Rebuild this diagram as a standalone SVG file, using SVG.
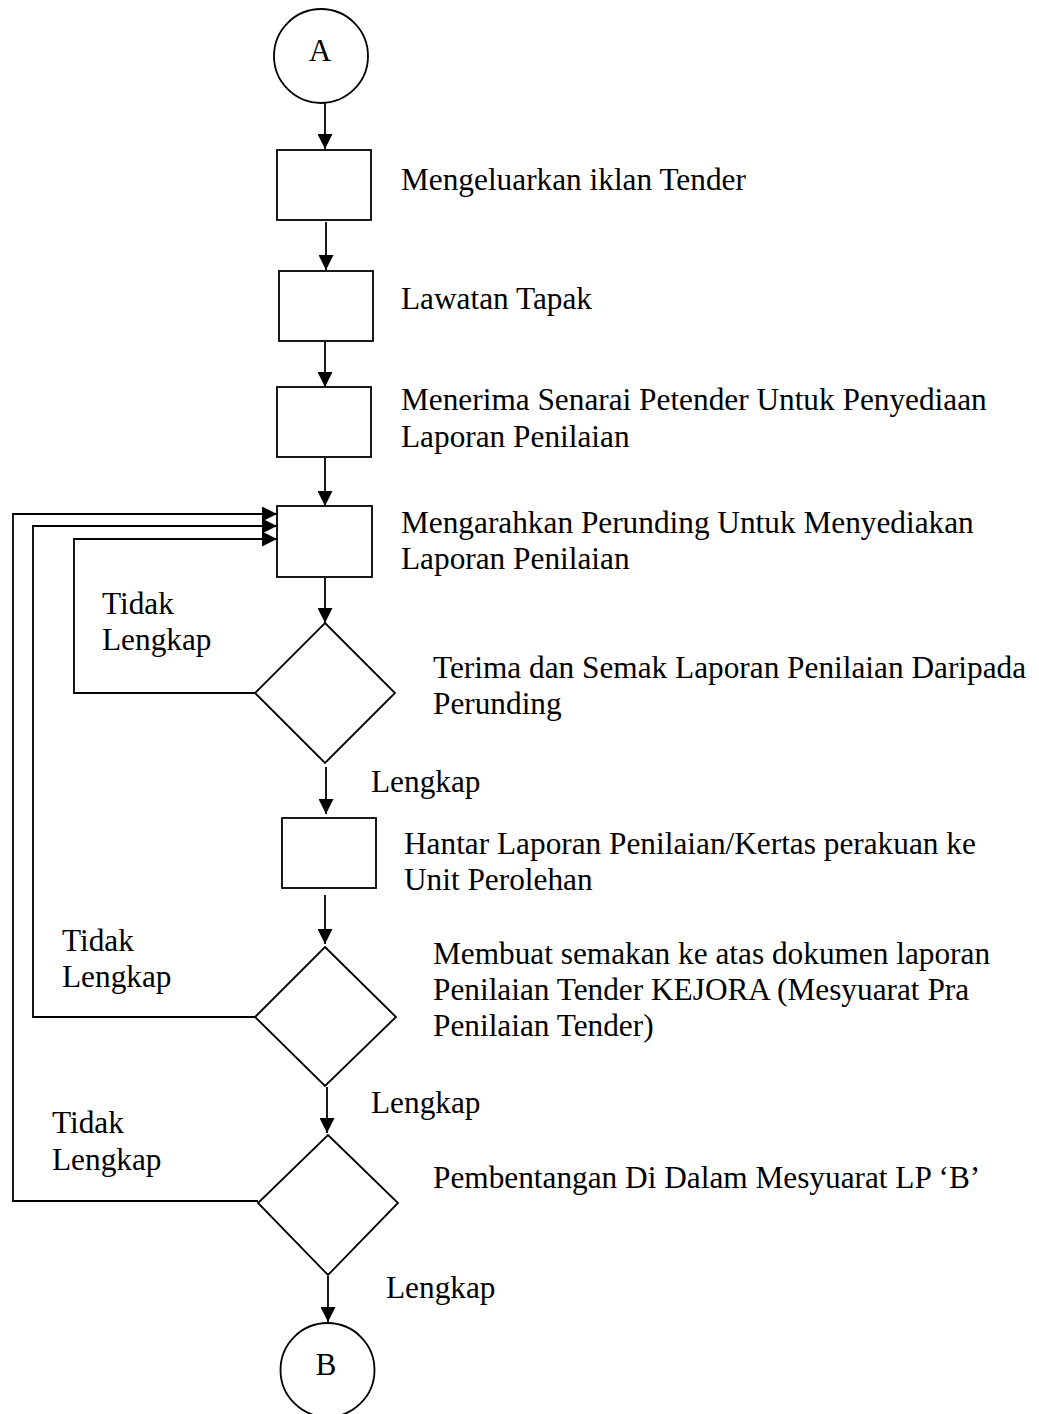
<svg xmlns="http://www.w3.org/2000/svg" width="1039" height="1414" viewBox="0 0 1039 1414">
<style>
.s{fill:#fff;stroke:#000;stroke-width:1.8}
.c{fill:none;stroke:#000;stroke-width:1.8}
text{font-family:"Liberation Serif","Times New Roman",serif;font-size:31.3px;fill:#000}
</style>
<defs>
<marker id="ah" viewBox="0 0 10 10" markerWidth="15" markerHeight="15" refX="10" refY="5" orient="auto" markerUnits="userSpaceOnUse">
<path d="M0,0 L10,5 L0,10 z" fill="#000"/>
</marker>
</defs>
<rect width="1039" height="1414" fill="#fff"/>
<g id="connectors">
<line class="c" x1="325" y1="103" x2="325" y2="149" marker-end="url(#ah)"/>
<line class="c" x1="326" y1="222" x2="326" y2="270" marker-end="url(#ah)"/>
<line class="c" x1="325" y1="342" x2="325" y2="387" marker-end="url(#ah)"/>
<line class="c" x1="325" y1="458" x2="325" y2="506" marker-end="url(#ah)"/>
<line class="c" x1="325" y1="578" x2="325" y2="623" marker-end="url(#ah)"/>
<line class="c" x1="326" y1="767" x2="326" y2="814" marker-end="url(#ah)"/>
<line class="c" x1="325" y1="895" x2="325" y2="944" marker-end="url(#ah)"/>
<line class="c" x1="327" y1="1087" x2="327" y2="1133" marker-end="url(#ah)"/>
<line class="c" x1="328" y1="1276" x2="328" y2="1322" marker-end="url(#ah)"/>
<path class="c" d="M255,693 H74 V539 H277" marker-end="url(#ah)"/>
<path class="c" d="M255,1017 H33 V526 H277" marker-end="url(#ah)"/>
<path class="c" d="M258,1201 H13 V514 H277" marker-end="url(#ah)"/>
</g>
<g id="nA"><circle class="s" cx="321" cy="56" r="47"/><text x="320" y="61" text-anchor="middle">A</text></g>
<g id="n1"><rect class="s" x="277" y="150" width="94" height="70"/><text x="401" y="190">Mengeluarkan iklan Tender</text></g>
<g id="n2"><rect class="s" x="279" y="271" width="94" height="70"/><text x="401" y="309">Lawatan Tapak</text></g>
<g id="n3"><rect class="s" x="277" y="387" width="94" height="70"/><text x="401" y="410">Menerima Senarai Petender Untuk Penyediaan</text><text x="401" y="447">Laporan Penilaian</text></g>
<g id="n4"><rect class="s" x="277" y="506" width="95" height="71"/><text x="401" y="533">Mengarahkan Perunding Untuk Menyediakan</text><text x="401" y="569">Laporan Penilaian</text></g>
<g id="d1"><polygon class="s" points="325,623 395,693 325,763 255,693"/><text x="433" y="678">Terima dan Semak Laporan Penilaian Daripada</text><text x="433" y="714">Perunding</text></g>
<g id="n5"><rect class="s" x="282" y="818" width="94" height="70"/><text x="404" y="854">Hantar Laporan Penilaian/Kertas perakuan ke</text><text x="404" y="890">Unit Perolehan</text></g>
<g id="d2"><polygon class="s" points="325,947 396,1017 325,1086 255,1017"/><text x="433" y="964">Membuat semakan ke atas dokumen laporan</text><text x="433" y="1000">Penilaian Tender KEJORA (Mesyuarat Pra</text><text x="433" y="1036">Penilaian Tender)</text></g>
<g id="d3"><polygon class="s" points="328,1135 398,1203 328,1275 258,1203"/><text x="433" y="1188">Pembentangan Di Dalam Mesyuarat LP ‘B’</text></g>
<g id="nB"><circle class="s" cx="327.5" cy="1370" r="47"/><text x="326" y="1375" text-anchor="middle">B</text></g>
<g id="labels">
<text x="102" y="614">Tidak</text><text x="102" y="650">Lengkap</text>
<text x="371" y="792">Lengkap</text>
<text x="62" y="951">Tidak</text><text x="62" y="987">Lengkap</text>
<text x="371" y="1113">Lengkap</text>
<text x="52" y="1133">Tidak</text><text x="52" y="1170">Lengkap</text>
<text x="386" y="1298">Lengkap</text>
</g>
</svg>
